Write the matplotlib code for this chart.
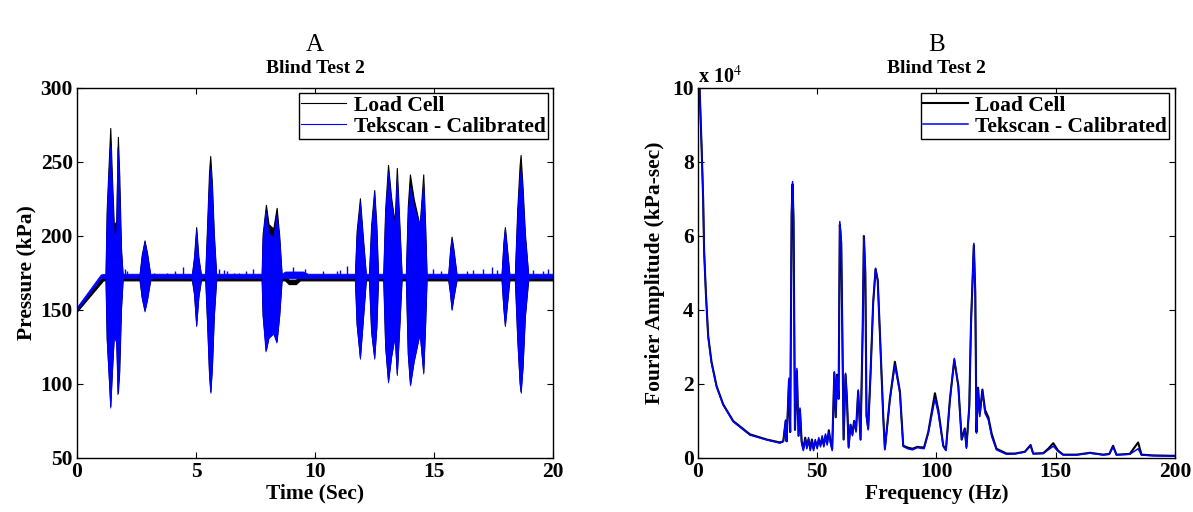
import numpy as np
import matplotlib
matplotlib.use("Agg")
import matplotlib.pyplot as plt

plt.rcParams['font.family'] = ['Liberation Serif', 'DejaVu Serif']
plt.rcParams['mathtext.fontset'] = 'stix'

# ---- A : pressure vs time (envelopes of the bursts) ----
tek_t = [0.0, 1.0, 1.20, 1.25, 1.35, 1.40, 1.47, 1.55, 1.65, 1.70, 1.76, 1.85, 1.92,
         2.63, 2.72, 2.84, 2.95, 3.08,
         4.83, 4.92, 5.01, 5.10, 5.21,
         5.39, 5.47, 5.55, 5.61, 5.67, 5.75, 5.85,
         7.76, 7.80, 7.92, 8.05, 8.25, 8.38, 8.50, 8.60,
         8.75, 9.50, 9.70,
         11.68, 11.75, 11.89, 12.00, 12.14,
         12.27, 12.36, 12.49, 12.58, 12.65,
         12.87, 12.95, 13.07, 13.20, 13.35, 13.44, 13.55, 13.64,
         13.82, 13.90, 14.00, 14.15, 14.40, 14.55, 14.63, 14.69,
         15.60, 15.68, 15.74, 15.82, 15.95,
         17.84, 17.92, 17.98, 18.06, 18.17,
         18.40, 18.50, 18.60, 18.65, 18.72, 18.82, 18.96, 20.0]
tek_hi = [152, 174, 174.5, 215, 250, 261, 235, 200, 203, 260, 238, 190, 174.5,
          174.5, 186, 196, 187, 174.5,
          174.5, 185, 204, 185, 174.5,
          174.5, 205, 238, 246, 232, 200, 174.5,
          174.5, 198, 217, 202, 199, 214, 198, 174.5,
          176, 176, 174.5,
          174.5, 200, 222, 200, 174.5,
          174.5, 205, 229, 205, 174.5,
          174.5, 215, 243, 222, 207, 240, 205, 174.5,
          174.5, 215, 233, 220, 207, 236, 205, 174.5,
          174.5, 190, 198, 190, 174.5,
          174.5, 195, 205, 192, 174.5,
          174.5, 215, 240, 245, 230, 200, 174.5, 174.5]
tek_lo = [150, 171.5, 171.5, 130, 100, 84, 108, 132, 128, 93, 108, 150, 171.5,
          171.5, 158, 149, 157, 171.5,
          171.5, 160, 139, 158, 171.5,
          171.5, 140, 106, 94, 110, 145, 171.5,
          171.5, 146, 122, 131, 134, 128, 146, 171.5,
          171.5, 171.5, 171.5,
          171.5, 140, 117, 140, 171.5,
          171.5, 135, 117, 138, 171.5,
          171.5, 125, 101, 118, 132, 106, 140, 171.5,
          171.5, 120, 99, 115, 134, 107, 140, 171.5,
          171.5, 160, 150, 158, 171.5,
          171.5, 150, 139, 152, 171.5,
          171.5, 130, 100, 94, 110, 145, 171.5, 171.5]

lc_t = [0.0, 1.1, 1.20, 1.25, 1.35, 1.40, 1.47, 1.55, 1.65, 1.72, 1.78, 1.85, 1.92,
        2.63, 2.72, 2.84, 2.95, 3.08,
        4.83, 4.92, 5.01, 5.10, 5.21,
        5.39, 5.47, 5.55, 5.60, 5.67, 5.75, 5.85,
        7.76, 7.80, 7.94, 8.05, 8.25, 8.39, 8.50, 8.60,
        8.74, 8.90, 9.20, 9.37, 9.50,
        11.68, 11.75, 11.89, 12.00, 12.14,
        12.27, 12.36, 12.49, 12.58, 12.65,
        12.87, 12.95, 13.07, 13.20, 13.35, 13.44, 13.55, 13.64,
        13.82, 13.90, 13.99, 14.15, 14.40, 14.55, 14.63, 14.69,
        15.60, 15.68, 15.74, 15.82, 15.95,
        17.84, 17.92, 17.98, 18.06, 18.17,
        18.40, 18.50, 18.60, 18.64, 18.72, 18.82, 18.96, 20.0]
lc_hi = [151.5, 173.5, 173.5, 218, 255, 273, 240, 207, 210, 267, 240, 192, 173.5,
         173.5, 187, 197, 188, 173.5,
         173.5, 186, 206, 186, 173.5,
         173.5, 208, 243, 254, 236, 202, 173.5,
         173.5, 201, 221, 208, 205, 219, 200, 173.5,
         173.5, 170.5, 170.5, 173.5, 173.5,
         173.5, 203, 225.5, 202, 173.5,
         173.5, 207, 231, 207, 173.5,
         173.5, 218, 248, 226, 209, 246, 207, 173.5,
         173.5, 220, 241.6, 225, 207, 241.6, 207, 173.5,
         173.5, 191, 199.5, 191, 173.5,
         173.5, 196, 206, 193, 173.5,
         173.5, 218, 248, 254.7, 234, 202, 173.5, 173.5]
lc_lo = [149, 170, 170, 131, 101, 85, 109, 133, 129, 94, 109, 151, 170,
         170, 159, 150, 158, 170,
         170, 161, 140, 159, 170,
         170, 141, 107, 95, 111, 146, 170,
         170, 147, 123, 132, 135, 129, 147, 170,
         170, 167.5, 167.5, 170, 170,
         170, 141, 118, 141, 170,
         170, 136, 118, 139, 170,
         170, 126, 102, 119, 133, 107, 141, 170,
         170, 121, 100, 116, 135, 108, 141, 170,
         170, 161, 151, 159, 170,
         170, 151, 140, 153, 170,
         170, 131, 101, 95, 111, 146, 170, 170]

# small spikes of the Tekscan signal on the plateau
spike_t = [2.03, 2.10, 3.22, 3.78, 4.13, 4.45, 5.95, 6.16, 6.30, 6.58, 6.80, 7.10, 7.40,
           9.09, 9.58, 10.35, 10.91, 11.05, 11.33, 14.96, 15.30, 16.37, 16.65, 17.07,
           17.42, 17.63, 19.17, 19.59, 19.80]
spike_p = [178, 176, 175, 175, 176, 179, 178, 177, 176, 175, 175, 176, 178,
           179, 178, 176, 176, 177, 180, 178, 176, 176, 177, 178,
           179, 177, 177, 176, 178]

# ---- B : Fourier amplitude (x 10^4 kPa-sec) ----
freq = [0.3, 0.7, 1.55, 2.2, 2.6, 3.35, 4.3, 5.7, 7.8, 10.6, 14.8, 21.8, 28.8, 34.4,
        35.8, 36.8, 37.2, 38.2, 38.7, 39.3, 39.7, 40.1, 40.7, 41.5, 42.2, 42.8,
        43.5, 44.2, 45.0, 45.7, 46.4, 47.1, 47.8, 48.5, 49.2, 50.0, 50.7, 51.4,
        52.1, 52.8, 53.5, 54.2, 54.9, 55.6, 56.3,
        57.2, 57.8, 58.3, 59.0, 59.5, 60.1, 61.1, 61.9, 62.5, 63.2, 64.0, 64.8, 65.5,
        66.3, 67.2, 68.2, 69.1, 69.6, 70.2, 70.7, 71.4, 72.4, 73.5, 74.5, 75.4, 76.3,
        77.7, 78.4, 80.5, 82.6, 84.7, 86.1, 88.0, 90.0, 92.0, 94.8, 96.6, 99.4,
        100.8, 102.9, 104.0, 105.7, 107.5, 109.2, 110.6, 111.9, 112.6, 113.8, 114.5,
        115.7, 116.3, 116.8, 117.5, 118.2, 119.3, 120.4, 121.8, 123.2, 125.2, 129.4,
        133.0, 137.1, 139.5, 140.6, 144.8, 146.9, 149.0, 151.0, 153.2, 158.8, 164.4,
        170.0, 172.5, 174.1, 175.5, 181.1, 184.6, 186.0, 190.9, 198.0, 200.0]
tek_amp = [10.5, 10.0, 8.4, 7.0, 5.6, 4.45, 3.28, 2.56, 1.93, 1.43, 0.98, 0.62, 0.49, 0.40,
           0.45, 1.03, 0.45, 2.16, 0.7, 6.66, 7.47, 6.5, 0.76, 2.42, 0.6, 1.35,
           0.4, 0.2, 0.5, 0.25, 0.55, 0.2, 0.45, 0.2, 0.5, 0.25, 0.55, 0.3,
           0.6, 0.3, 0.65, 0.35, 0.7, 0.4, 0.2,
           2.33, 1.1, 2.2, 1.6, 6.39, 5.9, 0.5, 2.29, 1.6, 0.27, 0.9, 0.6, 1.0,
           0.7, 1.84, 0.49, 3.5, 5.98, 5.0, 1.12, 0.76, 2.29, 4.2, 5.13, 4.8, 3.37,
           1.12, 0.22, 1.57, 2.5, 1.75, 0.31, 0.25, 0.22, 0.28, 0.25, 0.67, 1.6,
           1.21, 0.31, 0.2, 1.57, 2.69, 1.93, 0.49, 0.76, 0.26, 1.39, 3.64,
           5.8, 4.54, 0.67, 1.84, 1.12, 1.8, 1.21, 1.03, 0.58, 0.22, 0.1,
           0.11, 0.16, 0.33, 0.11, 0.12, 0.22, 0.32, 0.18, 0.08, 0.08, 0.13,
           0.08, 0.1, 0.3, 0.08, 0.1, 0.25, 0.08, 0.06, 0.05, 0.05]
lc_amp = [10.5, 10.0, 8.4, 7.0, 5.6, 4.45, 3.3, 2.6, 1.95, 1.45, 1.0, 0.64, 0.5, 0.42,
          0.45, 1.0, 0.45, 2.1, 0.7, 6.6, 7.4, 6.4, 0.76, 2.35, 0.6, 1.3,
          0.45, 0.25, 0.55, 0.3, 0.5, 0.25, 0.5, 0.25, 0.45, 0.3, 0.5, 0.35,
          0.55, 0.35, 0.6, 0.4, 0.75, 0.45, 0.25,
          2.3, 1.1, 2.25, 1.6, 6.3, 5.8, 0.5, 2.25, 1.6, 0.3, 0.9, 0.65, 1.0,
          0.75, 1.8, 0.5, 3.5, 6.0, 5.0, 1.15, 0.8, 2.3, 4.2, 5.1, 4.8, 3.4,
          1.15, 0.25, 1.6, 2.6, 1.8, 0.33, 0.28, 0.25, 0.3, 0.28, 0.7, 1.75,
          1.3, 0.33, 0.22, 1.6, 2.65, 1.95, 0.5, 0.8, 0.3, 1.4, 3.6,
          5.75, 4.5, 0.7, 1.9, 1.2, 1.85, 1.3, 1.1, 0.65, 0.25, 0.12,
          0.12, 0.17, 0.35, 0.12, 0.13, 0.25, 0.4, 0.2, 0.09, 0.09, 0.14,
          0.09, 0.11, 0.33, 0.09, 0.11, 0.42, 0.09, 0.07, 0.06, 0.06]

legend_labels = ['Load Cell', 'Tekscan - Calibrated']

fig = plt.figure(figsize=(11.93, 5.12), dpi=100)
axA = fig.add_axes([0.0645, 0.1055, 0.399, 0.7227])
axB = fig.add_axes([0.585, 0.1055, 0.3998, 0.7227])

fs = 15.5

# A
axA.fill_between(lc_t, lc_lo, lc_hi, color='black', linewidth=0.8, edgecolor='black')
axA.fill_between(tek_t, tek_lo, tek_hi, color='#0000ff', linewidth=0.6, edgecolor='#0000ff')
axA.vlines(spike_t, 173, spike_p, color='#0000ff', linewidth=1.0)
axA.plot([], [], color='black', linewidth=0.8, label=legend_labels[0])
axA.plot([], [], color='#0000ff', linewidth=0.8, label=legend_labels[1])
axA.set_xlim(0, 20)
axA.set_ylim(50, 300)
axA.set_xticks([0, 5, 10, 15, 20])
axA.set_yticks([50, 100, 150, 200, 250, 300])
axA.set_xlabel('Time (Sec)', fontsize=fs, fontweight='bold', labelpad=1)
axA.set_ylabel('Pressure (kPa)', fontsize=fs, fontweight='bold', labelpad=3)
axA.set_title('Blind Test 2', fontsize=14, fontweight='bold', pad=11)
fig.text(0.264, 0.912, 'A', fontsize=18, ha='center', va='center')

# B
axB.plot(freq, lc_amp, color='black', linewidth=1.5, label=legend_labels[0])
axB.plot(freq, tek_amp, color='#0000ff', linewidth=1.1, label=legend_labels[1])
axB.set_xlim(0, 200)
axB.set_ylim(0, 10)
axB.set_xticks([0, 50, 100, 150, 200])
axB.set_yticks([0, 2, 4, 6, 8, 10])
axB.set_xlabel('Frequency (Hz)', fontsize=fs, fontweight='bold', labelpad=1)
axB.set_ylabel('Fourier Amplitude (kPa-sec)', fontsize=fs, fontweight='bold', labelpad=5)
axB.set_title('Blind Test 2', fontsize=14, fontweight='bold', pad=11)
axB.text(0.0, 1.0, r'x 10$^4$', transform=axB.transAxes, fontsize=14.5,
         fontweight='bold', ha='left', va='bottom')
fig.text(0.785, 0.912, 'B', fontsize=18, ha='center', va='center')

for ax in (axA, axB):
    ax.tick_params(direction='in', top=True, right=True, length=4, width=0.8,
                   labelsize=fs, pad=3)
    for lab in ax.get_xticklabels() + ax.get_yticklabels():
        lab.set_fontweight('bold')
    for sp in ax.spines.values():
        sp.set_linewidth(1.0)
    leg = ax.legend(loc='upper right', fancybox=False, framealpha=1, edgecolor='black',
                    prop={'weight': 'bold', 'size': 15.5}, handlelength=2.1,
                    borderpad=0.1, labelspacing=0.05, handletextpad=0.35,
                    borderaxespad=0.25)
    leg.get_frame().set_linewidth(1.0)

fig.savefig('out.png', dpi=100)
